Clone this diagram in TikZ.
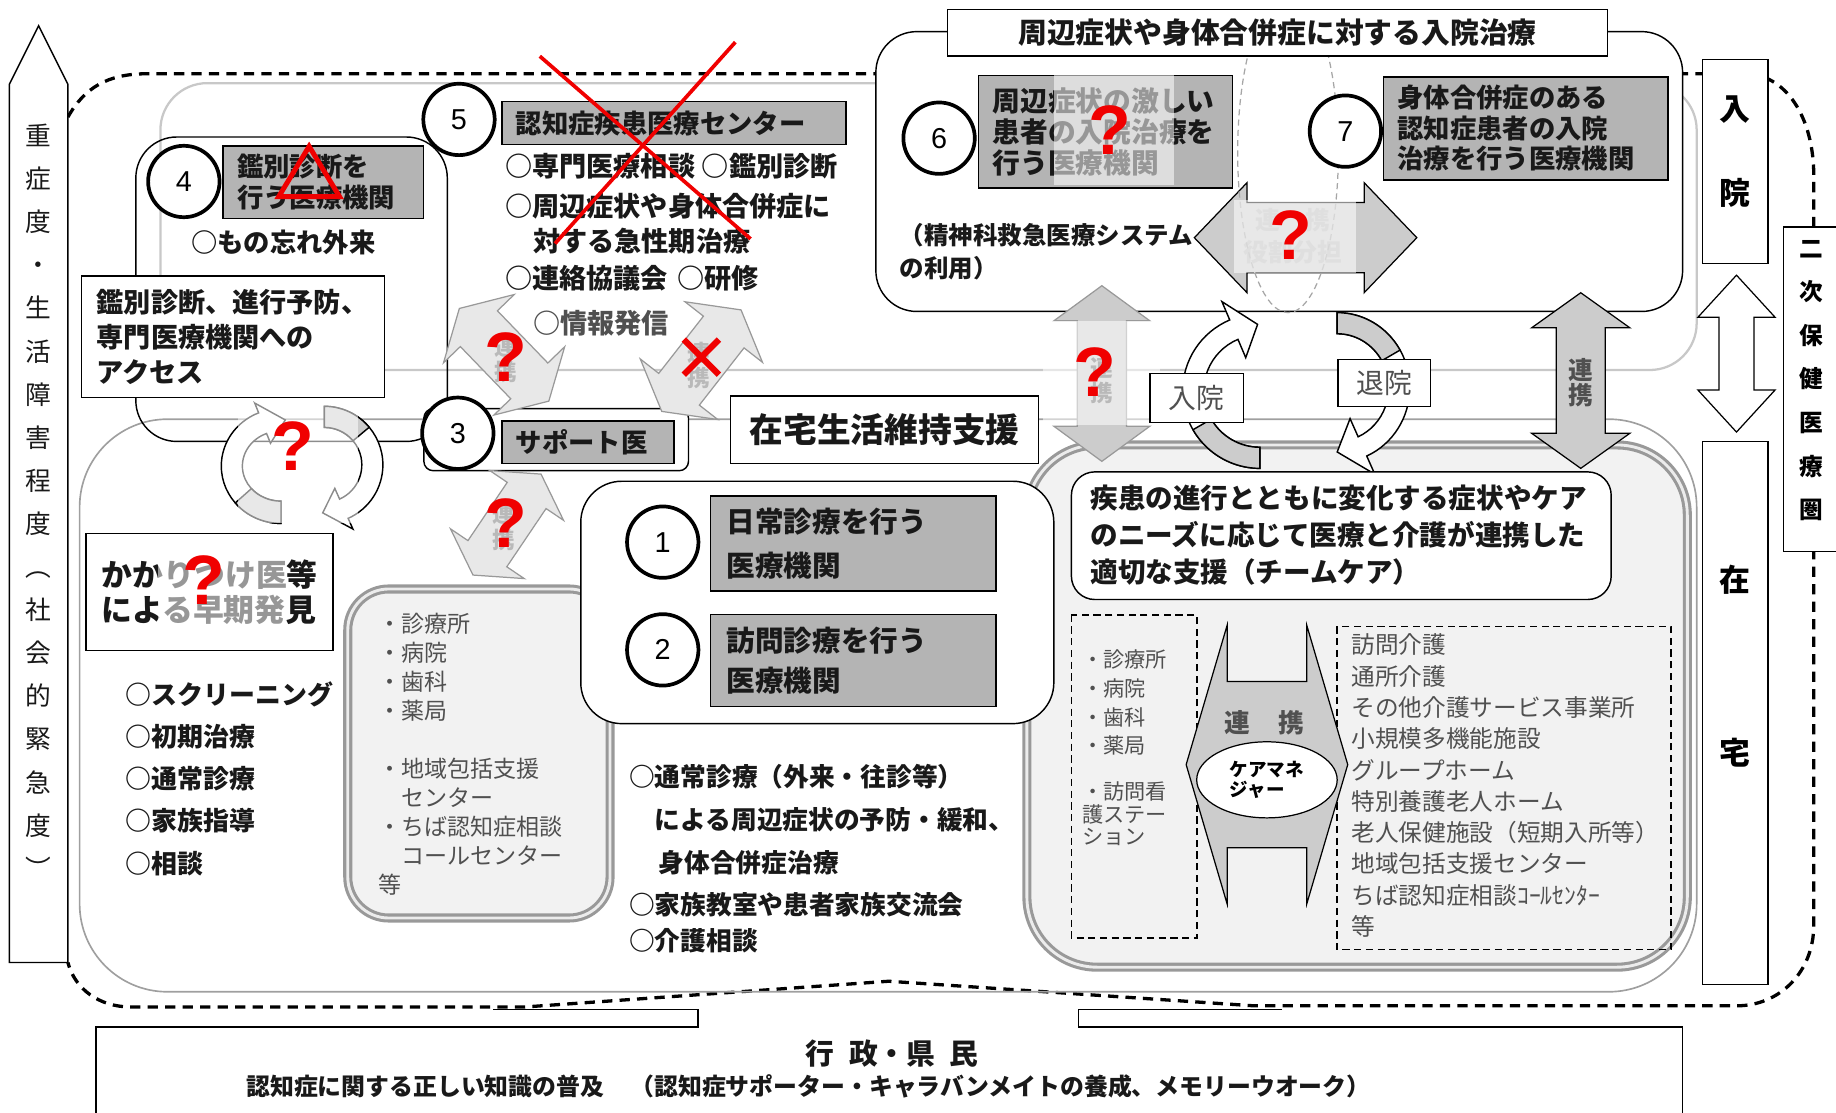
\documentclass[tikz,border=0pt]{standalone}
\usepackage{fontspec}
\setmainfont{Noto Sans CJK JP}
\newfontfamily\qfont{Liberation Sans}
\usetikzlibrary{shapes.geometric}

\definecolor{boxgray}{RGB}{180,180,180}
\definecolor{arrgray}{RGB}{204,204,204}
\definecolor{lightarr}{RGB}{232,232,232}
\definecolor{framegray}{RGB}{200,200,200}
\definecolor{gridgray}{RGB}{242,242,242}
\definecolor{txtgray}{RGB}{80,80,80}
\definecolor{txtblack}{RGB}{25,25,25}
\definecolor{markred}{RGB}{240,0,0}

\tikzstyle{boxline}=[draw=black, line width=0.7pt]
\tikzstyle{numcirc}=[circle, draw=black, line width=1.8pt, fill=white, minimum size=1.22cm, inner sep=0pt, font=\qfont\fontsize{14}{14}\selectfont]
\tikzstyle{graybox}=[rectangle, draw=black, line width=0.7pt, fill=boxgray, anchor=north west, align=left, inner xsep=0.24cm, inner ysep=0pt, text=txtblack]
\tikzstyle{whitebox}=[rectangle, draw=black, line width=0.7pt, fill=white, inner sep=0pt, text=txtblack]
\tikzstyle{txt}=[inner sep=0pt, anchor=west, align=left, text=txtblack]
\tikzstyle{ghosttext}=[inner sep=0pt, align=center, text=gray!55, font=\fontsize{11}{12.5}\selectfont\bfseries]
\tikzstyle{qmark}=[inner sep=0pt, text=markred, font=\qfont\bfseries\fontsize{34}{34}\selectfont]
\tikzstyle{redline}=[draw=markred, line width=1.8pt]
\tikzstyle{veil}=[fill=white, opacity=0.55]
\tikzstyle{boundary}=[draw=black, line width=1.6pt, dash pattern=on 5pt off 3.5pt]
\tikzstyle{dashbox}=[draw=black, line width=0.8pt, dash pattern=on 3.5pt off 2.2pt]
\tikzstyle{listframe}=[draw=gray!80, line width=1.5pt, double=gray!15, double distance=1.4pt, fill=gridgray]
\tikzstyle{blockarrow}=[draw=black, line width=0.6pt, fill=arrgray]
\tikzstyle{lightarrow}=[draw=gray!80, line width=0.6pt, fill=lightarr]

\tikzset{
  pics/dblarrow/.style n args={4}{code={
    \path[pic actions] (-#1,0) -- ({-#1+#2},#3) -- ({-#1+#2},#4) -- ({#1-#2},#4) -- ({#1-#2},#3) -- (#1,0)
      -- ({#1-#2},-#3) -- ({#1-#2},-#4) -- ({-#1+#2},-#4) -- ({-#1+#2},-#3) -- cycle;
  }},
  pics/ribbon/.style n args={8}{code={
    \pgfmathsetmacro\rxh{#1+#8}\pgfmathsetmacro\ryh{#2+#8}
    \pgfmathsetmacro\rxm{(#1+#3)/2}\pgfmathsetmacro\rym{(#2+#4)/2}
    \pgfmathsetmacro\rxl{#3-#8}\pgfmathsetmacro\ryl{#4-#8}
    \path[pic actions] (#5:#1 and #2) arc[start angle=#5, end angle=#6, x radius=#1, y radius=#2]
      -- (#6:{\rxh} and {\ryh}) -- (#7:{\rxm} and {\rym}) -- (#6:{\rxl} and {\ryl}) -- (#6:#3 and #4)
      arc[start angle=#6, end angle=#5, x radius=#3, y radius=#4] -- cycle;
  }},
  pics/band/.style n args={6}{code={
    \path[pic actions] (#5:#1 and #2) arc[start angle=#5, end angle=#6, x radius=#1, y radius=#2]
      -- (#6:#3 and #4) arc[start angle=#6, end angle=#5, x radius=#3, y radius=#4] -- cycle;
  }}
}

\begin{document}
\begin{tikzpicture}[x=0.02cm, y=-0.02cm]
  \useasboundingbox (0,0) rectangle (1568,950);

  % Frames
  \draw[boundary] (58,100) .. controls (72,75) and (92,63) .. (125,63) -- (1490,63)
    .. controls (1525,63) and (1549,100) .. (1549,150) -- (1549,790)
    .. controls (1549,830) and (1520,859) .. (1483,859) -- (1071,859) -- (759,838) -- (448,860) -- (112,860)
    .. controls (85,860) and (64,845) .. (58,822);
  \draw[boxline] (82,955) -- (82,877) -- (596,877) -- (596,862) -- (421,862);
  \draw[boxline] (1095,862) -- (921,862) -- (921,877) -- (1437,877) -- (1437,955);
  \draw[framegray, line width=1.1pt, rounded corners=0.8cm] (137,71) rectangle (1449,316);
  \draw[gray!75, line width=0.8pt, rounded corners=1.5cm] (68,358) rectangle (1449,847);
  \draw[listframe, rounded corners=1.2cm] (877,380) rectangle (1441,826);
  \draw[listframe, rounded corners=0.7cm] (297,503) rectangle (521,784);

  % Bottom
  \node (gyosei) [txt, anchor=center, font=\fontsize{14}{14}\selectfont\bfseries] at (762,900) {行\hspace{0.5em}政・県\hspace{0.5em}民};
  \node (fukyu) [txt, font=\fontsize{11.6}{11.6}\selectfont\bfseries] at (210,928) {認知症に関する正しい知識の普及\hspace{1.1em}（認知症サポーター・キャラバンメイトの養成、メモリーウオーク）};

  % Severity axis
  \draw[boxline, fill=white] (8,72) -- (33,22) -- (58,72) -- (58,822) -- (8,822) -- cycle;
  \node (severity) [inner sep=0pt, align=center, text=txtblack, font=\fontsize{12.5}{20.95}\selectfont] at (33,428)
    {重\\症\\度\\・\\生\\活\\障\\害\\程\\度\\︵\\社\\会\\的\\緊\\急\\度\\︶};

  % Right labels
  \draw[boxline, fill=white] (1454,51) rectangle (1510,225);
  \node (nyu) [inner sep=0pt, font=\fontsize{15}{15}\selectfont\bfseries] at (1482,94) {入};
  \node (in) [inner sep=0pt, font=\fontsize{15}{15}\selectfont\bfseries] at (1482,165) {院};
  \draw[boxline, fill=white] (1454,377) rectangle (1510,841);
  \node (zai) [inner sep=0pt, font=\fontsize{15}{15}\selectfont\bfseries] at (1482,495) {在};
  \node (taku) [inner sep=0pt, font=\fontsize{15}{15}\selectfont\bfseries] at (1482,643) {宅};
  \draw[boxline, fill=white] (1523,194) rectangle (1575,471);
  \node (niji) [inner sep=0pt, align=center, font=\fontsize{11.5}{21.2}\selectfont\bfseries] at (1547,325) {二\\次\\保\\健\\医\\療\\圏};
  \pic[draw=black, line width=0.6pt, fill=white, rotate=90] at (1483,302) {dblarrow={67}{36}{33}{15}};

  % Box 4
  \draw[boxline, rounded corners=0.7cm] (116,117) rectangle (382,377);
  \node (box4) [graybox, text width=2.94cm, minimum height=1.24cm, font=\fontsize{12.8}{15.3}\selectfont\bfseries] at (190,124) {鑑別診断を\\行う医療機関};
  \node (c4) [numcirc] at (157,155) {4};
  \node (monowasure) [txt, font=\fontsize{12.8}{15}\selectfont\bfseries] at (163,207) {○もの忘れ外来};
  \node (access) [whitebox, anchor=north west, align=left, inner xsep=0.26cm, text width=4.66cm, minimum height=2.08cm, font=\fontsize{13.2}{17.1}\selectfont\bfseries] at (69,235) {鑑別診断、進行予防、\\専門医療機関への\\アクセス};

  % Box 5
  \node (box5) [graybox, text width=5.4cm, minimum height=0.74cm, font=\fontsize{12.8}{15}\selectfont\bfseries] at (428,86) {認知症疾患医療センター};
  \node (c5) [numcirc] at (392,102) {5};
  \node (center1) [txt, font=\fontsize{13.2}{15}\selectfont\bfseries] at (431,142) {○専門医療相談\hspace{0.25em}○鑑別診断};
  \node (center2) [txt, font=\fontsize{13.2}{15}\selectfont\bfseries] at (431,176) {○周辺症状や身体合併症に};
  \node (center3) [txt, font=\fontsize{13.2}{15}\selectfont\bfseries] at (455,206) {対する急性期治療};
  \node (center4) [txt, font=\fontsize{13.2}{15}\selectfont\bfseries] at (431,238) {○連絡協議会\hspace{0.35em}○研修};
  \node (center5) [txt, text=txtgray, font=\fontsize{13.2}{15}\selectfont\bfseries] at (455,276) {○情報発信};

  % Hospital
  \draw[boxline, fill=white, rounded corners=0.7cm] (748,27) rectangle (1437,266);
  \pic[blockarrow] at (1115,203) {dblarrow={95}{45}{47}{30}};
  \node (yakuwari) [ghosttext, font=\fontsize{12}{15.5}\selectfont\bfseries] at (1104,202) {連\hspace{1em}携\\役割分担};
  \begin{scope}
    \clip (1000,48) rectangle (1200,300);
    \draw[gray!70, line width=0.6pt, dash pattern=on 3pt off 2pt] (1100,130) ellipse [x radius=43, y radius=137];
  \end{scope}
  \fill[veil] (1054,171) rectangle (1158,233);
  \node (title) [whitebox, minimum width=11.28cm, minimum height=0.8cm, font=\fontsize{14}{14}\selectfont\bfseries] at (1091,28) {周辺症状や身体合併症に対する入院治療};
  \node (box6) [graybox, text width=3.86cm, minimum height=1.92cm, font=\fontsize{13.5}{15.1}\selectfont\bfseries] at (835,64) {周辺症状の激しい\\患者の入院治療を\\行う医療機関};
  \fill[veil] (900,64) rectangle (1003,158);
  \node (c6) [numcirc] at (802,118) {6};
  \node (box7) [graybox, text width=4.38cm, minimum height=1.76cm, font=\fontsize{12.8}{14.8}\selectfont\bfseries] at (1181,65) {身体合併症のある\\認知症患者の入院\\治療を行う医療機関};
  \node (c7) [numcirc] at (1149,112) {7};
  \node (seishin) [txt, font=\fontsize{11.9}{15.9}\selectfont\bfseries] at (768,215) {（精神科救急医療システム\\の利用）};

  % Box 3
  \draw[boxline, fill=white, rounded corners=0.16cm] (362,349) rectangle (588,402);
  \node (box3) [graybox, text width=2.46cm, minimum height=0.72cm, font=\fontsize{12.8}{15}\selectfont\bfseries] at (428,359) {サポート医};
  \node (c3) [numcirc] at (391,370) {3};
  \node (zaitaku) [whitebox, minimum width=5.26cm, minimum height=1.16cm, font=\fontsize{16.4}{16.4}\selectfont\bfseries] at (755.5,367) {在宅生活維持支援};

  % Links
  \pic[lightarrow, rotate=134] at (430.5,303) {dblarrow={55}{24}{42}{22}};
  \node (renkeiA) [ghosttext] at (432,307) {連\\携};
  \pic[lightarrow, rotate=52] at (599,308) {dblarrow={55}{24}{42}{22}};
  \node (renkeiB) [ghosttext] at (597,312) {連\\携};
  \pic[lightarrow, rotate=56] at (433,448) {dblarrow={52}{22}{38}{20}};
  \node (renkeiC) [ghosttext] at (430,450) {連\\携};
  \pic[blockarrow, draw=gray!80, rotate=90] at (941,319) {dblarrow={75}{30}{41}{21}};
  \fill[veil] (891,274) rectangle (991,363);
  \node (renkeiD) [ghosttext] at (941,325) {連\\携};
  \pic[blockarrow, rotate=90] at (1350,325) {dblarrow={75}{30}{42}{21}};
  \node (renkeiE) [inner sep=0pt, align=center, text=txtgray, font=\fontsize{12}{12}\selectfont\bfseries] at (1350,327) {連\\携};

  % Cycles
  \pic[boxline, fill=white] at (240,398) {ribbon={51}{49}{33}{30}{90}{248}{275}{9}};
  \pic[boxline, fill=arrgray] at (240,398) {band={51}{49}{33}{30}{90}{140}};
  \pic[boxline, fill=white] at (277,397) {ribbon={50}{50}{32}{32}{-90}{66}{92}{10}};
  \pic[boxline, fill=arrgray] at (277,397) {band={50}{50}{32}{32}{-90}{-40}};
  \fill[veil] (203,343) rectangle (306,447);
  \pic[boxline, fill=white] at (1076,334) {ribbon={66}{66}{48}{48}{90}{247}{268}{17}};
  \pic[boxline, fill=arrgray] at (1076,334) {band={66}{66}{48}{48}{90}{150}};
  \pic[boxline, fill=white] at (1142,331) {ribbon={62}{64}{44}{46}{-90}{66}{90}{17}};
  \pic[boxline, fill=arrgray] at (1142,331) {band={62}{64}{44}{46}{-90}{-30}};
  \node (nyuin) [whitebox, minimum width=1.6cm, minimum height=0.84cm, text=txtgray, font=\fontsize{13.5}{13.5}\selectfont] at (1022,340) {入院};
  \node (taiin) [whitebox, minimum width=1.58cm, minimum height=0.8cm, text=txtgray, font=\fontsize{13.5}{13.5}\selectfont] at (1182,327) {退院};

  % Home care, left
  \node (kakari) [whitebox, anchor=north west, align=left, inner xsep=0.26cm, text width=3.7cm, minimum height=2.0cm, font=\fontsize{15}{17}\selectfont\bfseries] at (73,455) {かかりつけ医等\\による早期発見};
  \fill[veil] (135,470) rectangle (245,540);
  \node (shoki) [txt, font=\fontsize{12.6}{20.5}\selectfont\bfseries] at (107,665) {○スクリーニング\\○初期治療\\○通常診療\\○家族指導\\○相談};
  \node (clinics) [txt, text=txtgray, font=\fontsize{11.2}{14.1}\selectfont] at (323,644) {・診療所\\・病院\\・歯科\\・薬局\\[0.496cm]・地域包括支援\\\hspace*{1em}センター\\・ちば認知症相談\\\hspace*{1em}コールセンター\\等};

  % Boxes 1 and 2
  \draw[boxline, fill=white, rounded corners=0.7cm] (496,411) rectangle (900,618);
  \node (box1) [graybox, inner xsep=0.28cm, text width=4.32cm, minimum height=1.62cm, font=\fontsize{13.9}{21.6}\selectfont\bfseries] at (606,423) {日常診療を行う\\医療機関};
  \node (c1) [numcirc] at (566,463) {1};
  \node (box2) [graybox, inner xsep=0.28cm, text width=4.32cm, minimum height=1.58cm, font=\fontsize{13.9}{19.4}\selectfont\bfseries] at (606,524) {訪問診療を行う\\医療機関};
  \node (c2) [numcirc] at (566,555) {2};
  \node (tsujo) [txt, font=\fontsize{12.5}{21}\selectfont\bfseries] at (537,700) {○通常診療（外来・往診等）\\\hspace*{1em}による周辺症状の予防・緩和、\\\hspace*{1.15em}身体合併症治療};
  \node (kazoku) [txt, font=\fontsize{12.5}{17.6}\selectfont\bfseries] at (537,788) {○家族教室や患者家族交流会\\○介護相談};

  % Team care
  \draw[boxline, fill=white, rounded corners=0.4cm] (915,403) rectangle (1376,512);
  \node (teamcare) [txt, font=\fontsize{13.4}{18.2}\selectfont\bfseries] at (931,457) {疾患の進行とともに変化する症状やケア\\のニーズに応じて医療と介護が連携した\\適切な支援（チームケア）};
  \draw[dashbox] (915,525) rectangle (1022,801);
  \draw[dashbox] (1142,535) rectangle (1427,811);
  \node (clinics2) [txt, text=txtgray, font=\fontsize{10.3}{14}\selectfont] at (924,600) {・診療所\\・病院\\・歯科\\・薬局};
  \node (houkan) [txt, text=txtgray, font=\fontsize{10.3}{10.8}\selectfont] at (924,695) {・訪問看\\護ステー\\ション};
  \node (kaigo) [txt, text=txtgray, font=\fontsize{11.5}{15.2}\selectfont] at (1154,671) {訪問介護\\通所介護\\その他介護サービス事業所\\小規模多機能施設\\グループホーム\\特別養護老人ホーム\\老人保健施設（短期入所等）\\地域包括支援センター\\ちば認知症相談ｺｰﾙｾﾝﾀｰ\\等};
  \pic[blockarrow] at (1082,653) {dblarrow={69}{35}{119}{71}};
  \node (renkeiF) [inner sep=0pt, text=txtgray, font=\fontsize{12.5}{12.5}\selectfont\bfseries] at (1080,617) {連\hspace{1.1em}携};
  \node (caremane) [ellipse, draw=black, line width=0.6pt, fill=white, minimum width=2.4cm, minimum height=1.3cm, inner sep=0pt, align=left, font=\fontsize{9}{9.7}\selectfont\bfseries] at (1082,666) {ケアマネ\\ジャー};

  % Marks
  \draw[redline, line width=2.4pt, line join=miter] (264,125) -- (238,168) -- (290,168) -- cycle;
  \draw[redline] (461,48) -- (641,204);
  \draw[redline] (628,36) -- (474,208);
  \draw[redline, line width=3pt] (584,290) -- (614,320) (614,290) -- (584,320);
  \node (q1) [qmark] at (948,111) {?};
  \node (q2) [qmark] at (1102,201) {?};
  \node (q3) [qmark] at (935,318) {?};
  \node (q4) [qmark] at (432,305) {?};
  \node (q5) [qmark] at (250,381) {?};
  \node (q6) [qmark] at (432,447) {?};
  \node (q7) [qmark] at (174,495) {?};
\end{tikzpicture}
\end{document}
